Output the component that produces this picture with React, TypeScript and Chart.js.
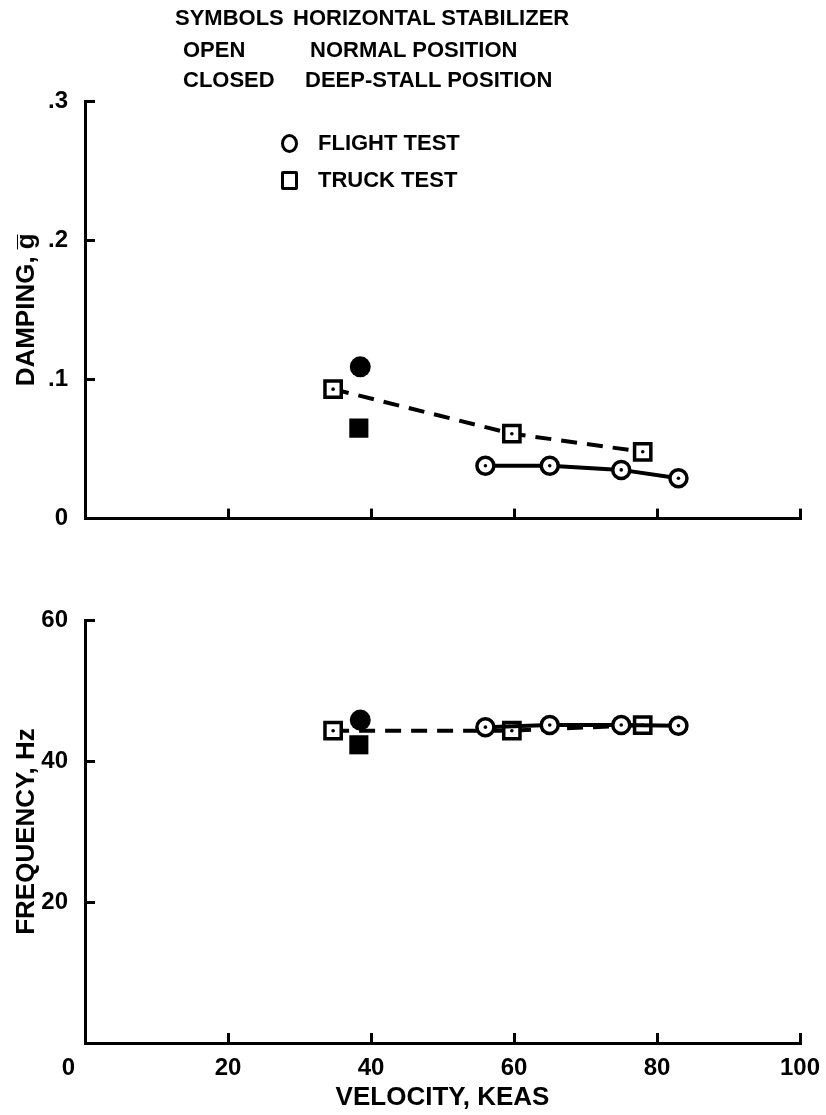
import React, { useEffect, useRef } from "react";
import { Chart, registerables } from "chart.js";
Chart.register(...registerables);

const FONT = "'Liberation Sans', Arial, Helvetica, sans-serif";

// Velocity (KEAS)
const velocityTicks = [0, 20, 40, 60, 80, 100];
const velocityLabels = ["0", "20", "40", "60", "80", "100"];
const flightSpeeds = [56, 65, 75, 83];
const truckSpeeds = [34.7, 59.7, 78];
const deepFlightSpeed = [38.5];
const deepTruckSpeed = [38.3];

// Damping, g-bar
const dampingTicks = [0, 0.1, 0.2, 0.3];
const dampingLabels = ["0", ".1", ".2", ".3"];
const flightDamping = [0.038, 0.038, 0.035, 0.029];
const truckDamping = [0.093, 0.061, 0.048];
const deepFlightDamping = [0.109];
const deepTruckDamping = [0.065];

// Frequency, Hz
const frequencyTicks = [0, 20, 40, 60];
const frequencyLabels = ["", "20", "40", "60"];
const flightFrequency = [44.8, 45.1, 45.1, 45.0];
const truckFrequency = [44.3, 44.3, 45.1];
const deepFlightFrequency = [45.8];
const deepTruckFrequency = [42.3];

const pts = (xs: number[], ys: number[]) => xs.map((x, i) => ({ x, y: ys[i] }));

function datasets(fY: number[], tY: number[], dfY: number[], dtY: number[]) {
  return [
    {
      label: "flight centers",
      data: pts(flightSpeeds, fY),
      showLine: false,
      pointStyle: "circle",
      pointRadius: 1.8,
      pointBackgroundColor: "#000",
      pointBorderWidth: 0,
      order: 0,
    },
    {
      label: "truck centers",
      data: pts(truckSpeeds, tY),
      showLine: false,
      pointStyle: "circle",
      pointRadius: 1.8,
      pointBackgroundColor: "#000",
      pointBorderWidth: 0,
      order: 0,
    },
    {
      label: "Flight test, normal",
      data: pts(flightSpeeds, fY),
      showLine: true,
      borderColor: "#000",
      borderWidth: 4,
      pointStyle: "circle",
      pointRadius: 8.5,
      pointBorderWidth: 3.5,
      pointBorderColor: "#000",
      pointBackgroundColor: "#fff",
      order: 2,
    },
    {
      label: "Truck test, normal",
      data: pts(truckSpeeds, tY),
      showLine: true,
      borderColor: "#000",
      borderWidth: 4,
      borderDash: [16, 10],
      pointStyle: "rect",
      pointRadius: 11.5,
      pointBorderWidth: 3.5,
      pointBorderColor: "#000",
      pointBackgroundColor: "#fff",
      order: 3,
    },
    {
      label: "Flight test, deep stall",
      data: pts(deepFlightSpeed, dfY),
      showLine: false,
      pointStyle: "circle",
      pointRadius: 10.5,
      pointBorderWidth: 0,
      pointBackgroundColor: "#000",
      order: 1,
    },
    {
      label: "Truck test, deep stall",
      data: pts(deepTruckSpeed, dtY),
      showLine: false,
      pointStyle: "rect",
      pointRadius: 13.5,
      pointBorderWidth: 0,
      pointBackgroundColor: "#000",
      order: 1,
    },
  ];
}

const tickFont = { family: FONT, size: 24, weight: "bold" as const };
const titleFont = { family: FONT, size: 26, weight: "bold" as const };

function axisCommon() {
  return {
    border: { display: true, color: "#000", width: 3 },
    grid: {
      display: true,
      drawOnChartArea: false,
      drawTicks: true,
      tickLength: -10,
      color: "#000",
      lineWidth: 3,
    },
  };
}

function makeConfig(kind: "top" | "bottom"): any {
  const isTop = kind === "top";
  const yTicks = isTop ? dampingTicks : frequencyTicks;
  const yLabels = isTop ? dampingLabels : frequencyLabels;
  const ds = isTop
    ? datasets(flightDamping, truckDamping, deepFlightDamping, deepTruckDamping)
    : datasets(flightFrequency, truckFrequency, deepFlightFrequency, deepTruckFrequency);
  return {
    type: "scatter",
    data: { datasets: ds },
    options: {
      responsive: false,
      animation: false,
      events: [],
      layout: { padding: { top: isTop ? 101 : 60, right: 26, left: 0, bottom: 0 } },
      plugins: { legend: { display: false }, tooltip: { enabled: false } },
      scales: {
        x: {
          type: "linear",
          min: 0,
          max: 100,
          ...axisCommon(),
          afterBuildTicks: (s: any) => {
            s.ticks = velocityTicks.map((v) => ({ value: v }));
          },
          afterFit: (s: any) => {
            s.height = isTop ? 35 : 72;
            s.paddingLeft = 0;
            s.paddingRight = 0;
          },
          ticks: {
            display: true,
            color: "#000",
            font: tickFont,
            padding: 21,
            maxRotation: 0,
            autoSkip: false,
            callback: (_v: any, i: number) =>
              isTop ? "" : i === 0 ? velocityLabels[0] + "     " : velocityLabels[i],
          },
          title: {
            display: !isTop,
            text: "VELOCITY, KEAS",
            color: "#000",
            font: titleFont,
            padding: { top: 0, bottom: 2 },
          },
        },
        y: {
          type: "linear",
          min: yTicks[0],
          max: yTicks[yTicks.length - 1],
          ...axisCommon(),
          afterBuildTicks: (s: any) => {
            s.ticks = yTicks.map((v) => ({ value: v }));
          },
          afterFit: (s: any) => {
            s.width = 85;
          },
          ticks: {
            color: "#000",
            font: tickFont,
            padding: 27,
            autoSkip: false,
            callback: (_v: any, i: number) => yLabels[i],
          },
          title: {
            display: true,
            text: isTop ? "DAMPING, g\u0305" : "FREQUENCY, Hz",
            color: "#000",
            font: titleFont,
            padding: { top: 11, bottom: 0 },
          },
        },
      },
    },
  };
}

const legendRows = [
  { left: "SYMBOLS", right: "HORIZONTAL STABILIZER", lx: 175, rx: 293, y: 18 },
  { left: "OPEN", right: "NORMAL POSITION", lx: 183, rx: 310, y: 50 },
  { left: "CLOSED", right: "DEEP-STALL POSITION", lx: 183, rx: 305, y: 80 },
];
const legendSymbols = [
  { text: "FLIGHT TEST", shape: "circle", y: 143 },
  { text: "TRUCK TEST", shape: "square", y: 180 },
];

function ChartCanvas({ kind, top, height }: { kind: "top" | "bottom"; top: number; height: number }) {
  const ref = useRef<HTMLCanvasElement | null>(null);
  useEffect(() => {
    if (!ref.current) return;
    const chart = new Chart(ref.current, makeConfig(kind));
    return () => chart.destroy();
  }, [kind]);
  return (
    <canvas
      ref={ref}
      width={826}
      height={height}
      style={{ position: "absolute", left: 0, top, width: 826, height }}
    />
  );
}

export default function App() {
  const textStyle = (x: number, y: number): React.CSSProperties => ({
    position: "absolute",
    left: x,
    top: y,
    transform: "translateY(-50%)",
    fontFamily: FONT,
    fontWeight: "bold",
    fontSize: 22,
    lineHeight: "26px",
    whiteSpace: "nowrap",
    color: "#000",
  });
  return (
    <div
      style={{
        position: "absolute",
        left: 0,
        top: 0,
        width: 826,
        height: 1115,
        background: "#fff",
        overflow: "hidden",
      }}
    >
      <ChartCanvas kind="top" top={0} height={560} />
      <ChartCanvas kind="bottom" top={560} height={555} />
      {legendRows.map((r) => (
        <React.Fragment key={r.left}>
          <div style={textStyle(r.lx, r.y)}>{r.left}</div>
          <div style={textStyle(r.rx, r.y)}>{r.right}</div>
        </React.Fragment>
      ))}
      {legendSymbols.map((s) => (
        <React.Fragment key={s.text}>
          <div
            style={{
              position: "absolute",
              left: 281,
              top: s.y - 9,
              width: 11,
              height: 13,
              border: "3px solid #000",
              borderRadius: s.shape === "circle" ? "50%" : "2px",
            }}
          />
          <div style={textStyle(318, s.y)}>{s.text}</div>
        </React.Fragment>
      ))}
    </div>
  );
}
